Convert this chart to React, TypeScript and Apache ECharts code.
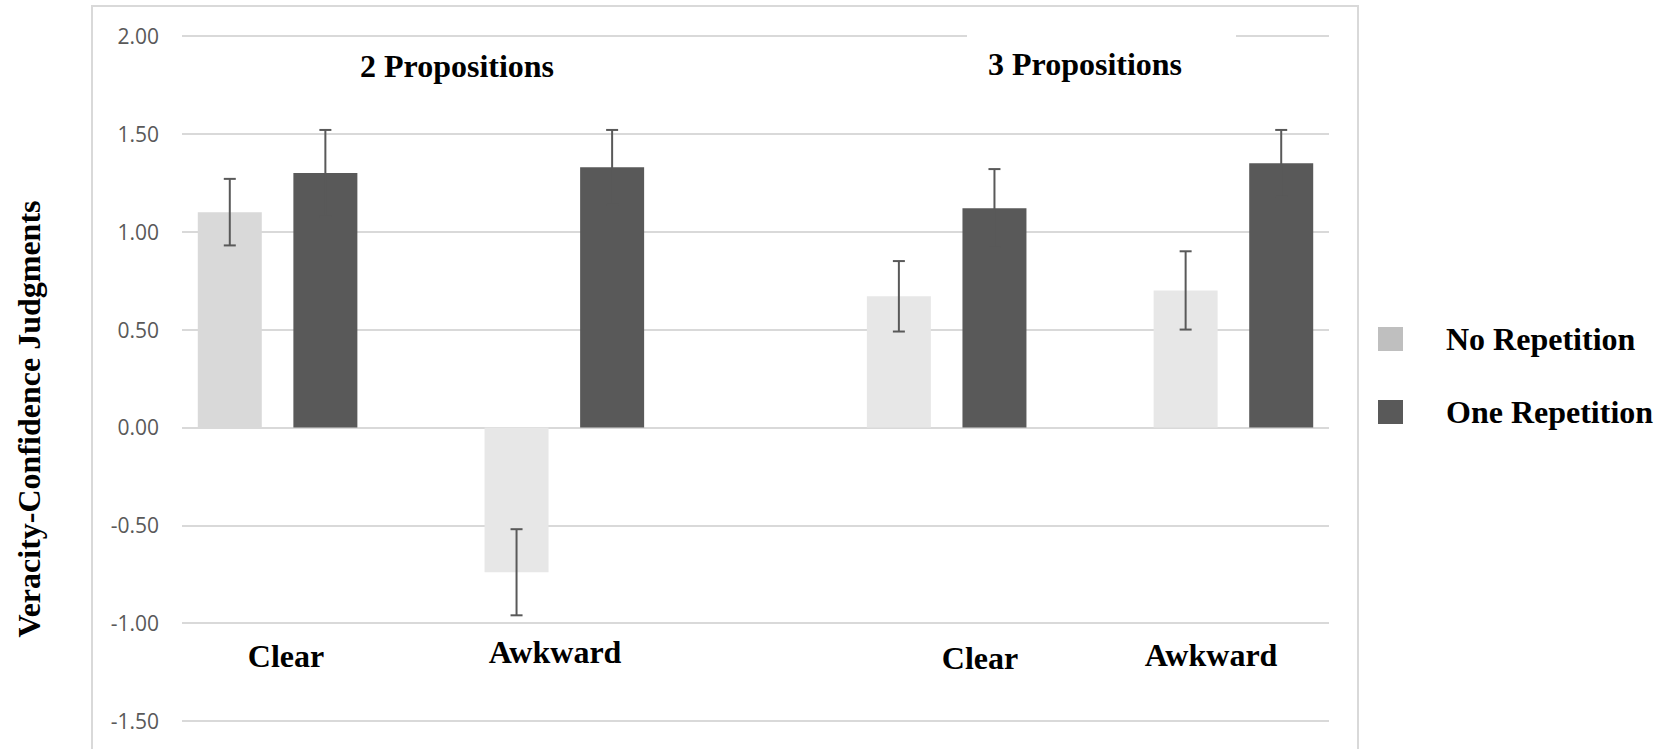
import React, { useEffect, useRef } from "react";
import * as echarts from "echarts";

// ---- Data ----
const categories = ["Clear", "Awkward", "Clear", "Awkward"];
const groupTitles = ["2 Propositions", "3 Propositions"];
const seriesNames = ["No Repetition", "One Repetition"];
const noRepetition = [1.1, -0.74, 0.67, 0.7];
const oneRepetition = [1.3, 1.33, 1.12, 1.35];
const noRepetitionErr = [0.17, 0.22, 0.18, 0.2];
const oneRepetitionErr = [0.22, 0.19, 0.2, 0.17];
const yMin = -1.5;
const yMax = 2.0;
const yStep = 0.5;

// ---- Layout (slot per bar; each category has 3 slots) ----
const slotsPerCategory = 3;
const firstSlot = [0, 0, 1, 1];
const noRepColors = ["#d9d9d9", "#e7e7e7", "#e7e7e7", "#e7e7e7"];

const SERIF = "'Liberation Serif', 'Times New Roman', serif";

export default function App() {
  const ref = useRef<HTMLDivElement>(null);

  useEffect(() => {
    document.body.style.margin = "0";
    if (!ref.current) return;
    const chart = echarts.init(ref.current, null, { renderer: "svg" });

    const nSlots = categories.length * slotsPerCategory;
    const slotData = Array.from({ length: nSlots }, (_, i) => String(i));
    const noRepSlots: any[] = Array(nSlots).fill("-");
    const oneRepSlots: any[] = Array(nSlots).fill("-");
    const errData: number[][] = [];
    categories.forEach((_, c) => {
      const s0 = c * slotsPerCategory + firstSlot[c];
      noRepSlots[s0] = { value: noRepetition[c], itemStyle: { color: noRepColors[c] } };
      oneRepSlots[s0 + 1] = { value: oneRepetition[c] };
      errData.push([s0, noRepetition[c] - noRepetitionErr[c], noRepetition[c] + noRepetitionErr[c]]);
      errData.push([s0 + 1, oneRepetition[c] - oneRepetitionErr[c], oneRepetition[c] + oneRepetitionErr[c]]);
    });

    const catLabelPos = [
      [286, 656],
      [555, 652],
      [980, 658],
      [1211, 655],
    ];
    const groupTitlePos = [
      [457, 66],
      [1085, 64],
    ];

    chart.setOption({
      animation: false,
      backgroundColor: "#ffffff",
      grid: { left: 182, right: 343, top: 36, bottom: 28, containLabel: false },
      xAxis: {
        type: "category",
        data: slotData,
        axisLine: { show: false },
        axisTick: { show: false },
        axisLabel: { show: false },
        splitLine: { show: false },
      },
      yAxis: {
        type: "value",
        min: yMin,
        max: yMax,
        interval: yStep,
        axisLine: { show: false },
        axisTick: { show: false },
        axisLabel: {
          formatter: (v: number) => v.toFixed(2),
          color: "#595959",
          fontFamily: "'Open Sans', 'Noto Sans', sans-serif",
          fontSize: 21,
          margin: 23,
        },
        splitLine: { lineStyle: { color: "#d9d9d9", width: 2 } },
      },
      legend: {
        orient: "vertical",
        left: 1378,
        top: 323,
        padding: 0,
        itemWidth: 25,
        itemHeight: 24,
        itemGap: 41,
        icon: "rect",
        data: seriesNames,
        textStyle: {
          fontFamily: SERIF,
          fontWeight: "bold",
          fontSize: 32,
          color: "#000000",
          padding: [0, 0, 0, 38],
        },
      },
      series: [
        {
          name: seriesNames[0],
          type: "bar",
          data: noRepSlots,
          barWidth: 64,
          barGap: "-100%",
          itemStyle: { color: "#bfbfbf" },
          z: 2,
        },
        {
          name: seriesNames[1],
          type: "bar",
          data: oneRepSlots,
          barWidth: 64,
          barGap: "-100%",
          itemStyle: { color: "#595959" },
          z: 2,
        },
        {
          type: "custom",
          data: errData,
          z: 5,
          renderItem: (params: any, api: any) => {
            const x = api.value(0);
            const lo = api.coord([x, api.value(1)]);
            const hi = api.coord([x, api.value(2)]);
            const hw = 6;
            const style = { stroke: "#595959", lineWidth: 2 };
            return {
              type: "group",
              children: [
                { type: "line", shape: { x1: lo[0], y1: lo[1], x2: hi[0], y2: hi[1] }, style },
                { type: "line", shape: { x1: lo[0] - hw, y1: lo[1], x2: lo[0] + hw, y2: lo[1] }, style },
                { type: "line", shape: { x1: hi[0] - hw, y1: hi[1], x2: hi[0] + hw, y2: hi[1] }, style },
              ],
            };
          },
        },
      ],
      graphic: [
        {
          type: "rect",
          shape: { x: 92, y: 6, width: 1266, height: 760 },
          style: { fill: "none", stroke: "#d9d9d9", lineWidth: 2 },
          z: 0,
          silent: true,
        },
        {
          type: "rect",
          shape: { x: 967, y: 28, width: 269, height: 66 },
          style: { fill: "#ffffff" },
          z: 10,
          silent: true,
        },
        ...groupTitles.map((t, i) => ({
          type: "text",
          x: groupTitlePos[i][0],
          y: groupTitlePos[i][1],
          z: 11,
          style: {
            text: t,
            fill: "#000000",
            font: `bold 32px ${SERIF}`,
            textAlign: "center",
            textVerticalAlign: "middle",
          },
        })),
        ...categories.map((t, i) => ({
          type: "text",
          x: catLabelPos[i][0],
          y: catLabelPos[i][1],
          z: 11,
          style: {
            text: t,
            fill: "#000000",
            font: `bold 32px ${SERIF}`,
            textAlign: "center",
            textVerticalAlign: "middle",
          },
        })),
        {
          type: "text",
          x: 29,
          y: 419,
          rotation: Math.PI / 2,
          z: 11,
          style: {
            text: "Veracity-Confidence Judgments",
            fill: "#000000",
            font: `bold 32px ${SERIF}`,
            textAlign: "center",
            textVerticalAlign: "middle",
          },
        },
      ],
    });

    return () => chart.dispose();
  }, []);

  return <div ref={ref} style={{ width: 1672, height: 749 }} />;
}
